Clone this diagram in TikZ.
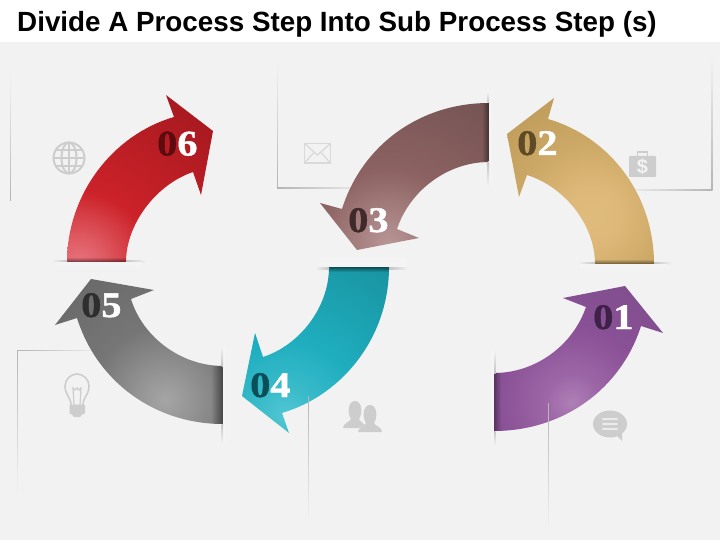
\documentclass[tikz,border=0pt]{standalone}
\usepackage{fontspec}
\setmainfont{Liberation Sans}
\newfontfamily\numfont[BoldFeatures={FakeStretch=1.12,FakeBold=1.2}]{Liberation Serif}
\usetikzlibrary{fadings}
\definecolor{bgc}{HTML}{F2F2F2}
\definecolor{iconc}{HTML}{CDCDCD}
\definecolor{guidec}{HTML}{B4B4B4}
\definecolor{shadowc}{HTML}{C4C4C4}
\definecolor{panelc}{HTML}{F4F4F4}
\tikzfading[name=fadetop,top color=transparent!50,bottom color=transparent!100]
\tikzfading[name=fadebottom,bottom color=transparent!50,top color=transparent!100]
\tikzfading[name=fadeleft,left color=transparent!65,right color=transparent!100]
\tikzfading[name=faderight,right color=transparent!55,left color=transparent!100]
\tikzset{
  x=1pt,y=-1pt,
  iconline/.style={draw=iconc,line width=2pt,fill=none},
  numlabel/.style={anchor=base west,inner sep=0pt,font=\numfont\bfseries\fontsize{36}{36}\selectfont},
}
\newcommand{\radfill}[5]{% name, inner, near, mid, outer
  \definecolor{#1a}{HTML}{#2}\definecolor{#1b}{HTML}{#3}\definecolor{#1c}{HTML}{#4}\definecolor{#1d}{HTML}{#5}%
  \pgfdeclareradialshading{rs#1}{\pgfpoint{0bp}{0bp}}{%
    color(0bp)=(#1a); color(3bp)=(#1b); color(8bp)=(#1c); color(22bp)=(#1d); color(50bp)=(#1d)}}
\radfill{six}{E87580}{DF5A62}{CC2229}{A5191F}
\radfill{three}{B89595}{A88282}{8C6262}{6E4F4F}
\radfill{two}{E0BC7C}{DDB878}{CCA866}{B08C4C}
\radfill{five}{A5A5A5}{949494}{767676}{606060}
\radfill{four}{52C6D2}{3ABBCA}{1FAEBF}{178E9A}
\radfill{one}{AE7FB6}{9C66A6}{8A5196}{744A82}
\newcommand{\arrowshade}[3]{% path, name, centre
  \begin{scope}
    \clip #1;
    \begin{scope}[shift={#3}]
      \path[shading=rs#2,shading angle=0] (-230,-230) rectangle (230,230);
    \end{scope}
  \end{scope}}
\begin{document}
\begin{tikzpicture}
\useasboundingbox (0,0) rectangle (720,540);
\fill[bgc] (0,0) rectangle (720,540);
\fill[white] (0,0) rectangle (720,42);
\node[anchor=base west,inner sep=0pt,font=\bfseries\fontsize{27.8}{27.8}\selectfont] (title) at (17,32) {Divide A Process Step Into Sub Process Step (s)};

% guide lines (fading into the background)
\shade[top color=bgc,bottom color=guidec] (10,72) rectangle (10.9,201);
\shade[top color=bgc,bottom color=guidec] (277,58) rectangle (277.9,189);
\shade[left color=guidec,right color=bgc] (277,188) rectangle (372,188.9);
\shade[top color=bgc,bottom color=guidec] (711.5,58) rectangle (712.4,190.9);
\shade[right color=guidec,left color=bgc] (622,190) rectangle (712.4,190.9);
\shade[left color=guidec,right color=bgc] (17,350) rectangle (106,350.9);
\shade[top color=guidec,bottom color=bgc] (17,350) rectangle (17.9,497);

% arrow outlines
\def\pathsix{(67,262) .. controls (67,195) and (112,135) .. (174,117) -- (166,95) -- (213,131) -- (201,195) -- (193,172) .. controls (155,185) and (126,225) .. (126,262) -- cycle}
\def\paththree{(489,103) .. controls (420,103) and (362,145) .. (342,209) -- (320,203) -- (357,250) -- (419,238) -- (397,229) .. controls (410,190) and (448,162) .. (489,162) -- cycle}
\def\pathtwo{(654,264) .. controls (654,195) and (610,137) .. (548,119) -- (554,98) -- (507,134) -- (519,197) -- (527,175) .. controls (565,187) and (595,225) .. (595,264) -- cycle}
\def\pathfive{(223,424) .. controls (155,424) and (97,382) .. (77,318) -- (55,325) -- (91,279) -- (154,290) -- (131,299) .. controls (143,338) and (182,366) .. (223,366) -- cycle}
\def\pathfour{(389,267) .. controls (389,335) and (345,394) .. (282,413) -- (289,433) -- (242,396) -- (255,333) -- (263,357) .. controls (300,345) and (329,307) .. (329,267) -- cycle}
\def\pathone{(494,431) .. controls (563,431) and (621,389) .. (641,326) -- (663,333) -- (625,286) -- (563,298) -- (586,307) .. controls (573,345) and (536,373) .. (494,373) -- cycle}

\arrowshade{\pathsix}{six}{(78,265)}
\arrowshade{\paththree}{three}{(388,243)}
\arrowshade{\pathtwo}{two}{(592,215)}
\arrowshade{\pathfive}{five}{(165,400)}
\arrowshade{\pathfour}{four}{(285,415)}
\arrowshade{\pathone}{one}{(572,402)}

% darkened arrow bases
\begin{scope}\clip \pathsix; \fill[black,path fading=fadebottom] (60,257) rectangle (130,262);\end{scope}
\begin{scope}\clip \pathtwo; \fill[black,path fading=fadebottom] (590,259) rectangle (660,264);\end{scope}
\begin{scope}\clip \pathfour; \fill[black,path fading=fadetop] (325,267) rectangle (395,272);\end{scope}
\begin{scope}\clip \paththree; \fill[black,path fading=faderight] (482,100) rectangle (489,165);\end{scope}
\begin{scope}\clip \pathfive; \fill[black,path fading=faderight] (211,362) rectangle (223,428);\end{scope}
\begin{scope}\clip \pathone; \fill[black,path fading=fadeleft] (494,370) rectangle (501,434);\end{scope}

% shadows beside the bases
\shade[left color=bgc,right color=shadowc] (52,260) rectangle (67,262);
\shade[left color=shadowc,right color=bgc] (126,260) rectangle (146,262);
\shade[left color=bgc,right color=shadowc] (578,262) rectangle (595,264);
\shade[left color=shadowc,right color=bgc] (654,262) rectangle (672,264);
\shade[left color=bgc,right color=shadowc] (315,267) rectangle (329,269.5);
\shade[left color=shadowc,right color=bgc] (389,267) rectangle (408,269.5);
\fill[panelc] (320,258) rectangle (406,267);
\fill[panelc] (55,262) rectangle (142,266);
\fill[panelc] (580,264) rectangle (668,268);
\fill[panelc] (489,96) rectangle (492,182);
\fill[panelc] (223,348) rectangle (226,442);
\fill[panelc] (491,350) rectangle (494,442);
\shade[top color=bgc,bottom color=shadowc] (487.5,92) rectangle (489,103);
\shade[top color=shadowc,bottom color=bgc] (487.5,162) rectangle (489,186);
\shade[top color=bgc,bottom color=shadowc] (221.5,347) rectangle (223,366);
\shade[top color=shadowc,bottom color=bgc] (221.5,424) rectangle (223,443);
\shade[top color=bgc,bottom color=shadowc] (494,350) rectangle (495.5,373);
\shade[top color=shadowc,bottom color=bgc] (494,431) rectangle (495.5,445);

% guide lines that run over the arrows
\shade[top color=guidec,bottom color=bgc] (308,396) rectangle (308.9,526);
\shade[top color=guidec,bottom color=bgc] (548,403) rectangle (548.9,534);

% numbers
\node[numlabel] (n6) at (157,155.5) {\textcolor[HTML]{5C0B0E}{0}\textcolor{white}{6}};
\node[numlabel] (n3) at (348,232) {\textcolor[HTML]{40292A}{0}\textcolor{white}{3}};
\node[numlabel] (n2) at (517,155) {\textcolor[HTML]{5E4A25}{0}\textcolor{white}{2}};
\node[numlabel] (n5) at (81,317) {\textcolor[HTML]{2E2E2E}{0}\textcolor{white}{5}};
\node[numlabel] (n4) at (250,397) {\textcolor[HTML]{0B4E58}{0}\textcolor{white}{4}};
\node[numlabel] (n1) at (593,329) {\textcolor[HTML]{3E2146}{0}\textcolor{white}{1}};

% globe icon
\draw[iconline] (69,158) circle (15.5);
\draw[iconline] (69,158) ellipse (7.5 and 15.5);
\draw[iconline] (69,142.5) -- (69,173.5);
\draw[iconline] (53.5,158) -- (84.5,158);
\draw[iconline] (56,150) -- (82,150);
\draw[iconline] (56,166) -- (82,166);

% envelope icon
\begin{scope}[draw=black!15,line width=1.3pt]
\draw (304.5,143.5) rectangle (330.5,163);
\draw (304.5,143.5) -- (317.5,155) -- (330.5,143.5);
\draw (304.5,163) -- (314,152.5);
\draw (330.5,163) -- (321,152.5);
\end{scope}

% briefcase icon
\fill[iconc,rounded corners=0.8pt] (629,156) rectangle (656,177);
\draw[iconc,line width=1.5pt] (637.5,156) -- (637.5,152) -- (647.5,152) -- (647.5,156);
\node[inner sep=0pt,text=bgc,font=\bfseries\fontsize{20}{20}\selectfont] (dollar) at (642.5,166.5) {\$};

% bulb icon
\draw[iconc,line width=1.6pt,line join=round] (71,405) .. controls (71,397) and (65,395) .. (65,386) .. controls (65,379) and (71,374) .. (77,374) .. controls (83,374) and (89,379) .. (89,386) .. controls (89,395) and (83,397) .. (83,405);
\draw[iconc,line width=1.2pt] (74,405) -- (73,388) -- (75,390) -- (77,388) -- (79,390) -- (81,388) -- (80,405);
\fill[iconc,rounded corners=1pt] (69.5,404.5) rectangle (85,414);
\fill[iconc] (71.5,414) -- (82.5,414) -- (80,417) -- (74,417) -- cycle;

% people icon
\fill[iconc] (343,428) .. controls (343,423) and (350,422) .. (351,419) .. controls (347,413) and (348,401) .. (355,401) .. controls (362,401) and (363,413) .. (359,419) .. controls (360,422) and (364,423) .. (365,426) -- (358,428) -- cycle;
\fill[bgc] (356,432.5) -- (364,425) -- (369,432.5) -- cycle;
\fill[iconc] (358,432) .. controls (358,427) and (365,426) .. (366,423) .. controls (362,417) and (363,405) .. (370,405) .. controls (377,405) and (378,417) .. (374,423) .. controls (375,426) and (382,427) .. (382,432) -- cycle;

% speech bubble icon
\fill[iconc] (610,424) ellipse (17 and 13.5);
\fill[iconc] (615,434) -- (622,441) -- (622,432) -- cycle;
\draw[black!8,line width=2.3pt,line cap=round] (603,419) -- (617,419);
\draw[black!8,line width=2.3pt,line cap=round] (603,424) -- (617,424);
\draw[black!8,line width=2.3pt,line cap=round] (603,429) -- (617,429);
\end{tikzpicture}
\end{document}
